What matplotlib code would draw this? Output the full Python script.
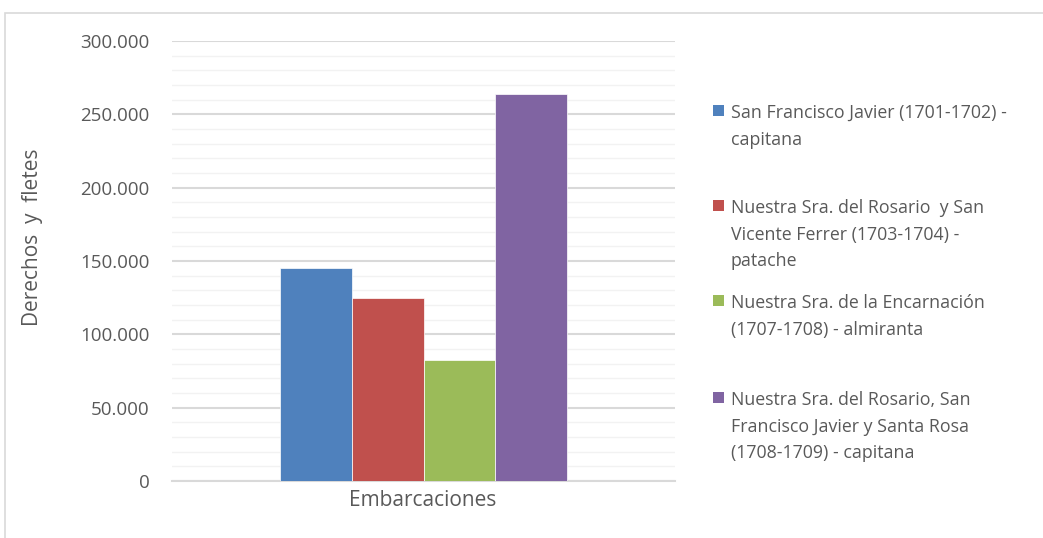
import matplotlib.pyplot as plt
from matplotlib.patches import Rectangle
from matplotlib.ticker import MultipleLocator, FuncFormatter

plt.rcParams['font.family'] = ['Open Sans', 'DejaVu Sans']

category = "Embarcaciones"
ships = [
    "San Francisco Javier (1701-1702) -\ncapitana",
    "Nuestra Sra. del Rosario  y San\nVicente Ferrer (1703-1704) -\npatache",
    "Nuestra Sra. de la Encarnación\n(1707-1708) - almiranta",
    "Nuestra Sra. del Rosario, San\nFrancisco Javier y Santa Rosa\n(1708-1709) - capitana",
]
values = [145500, 125000, 82500, 264000]
colors = ["#4F81BD", "#C0504D", "#9BBB59", "#8064A2"]

grey = "#595959"
fig = plt.figure(figsize=(10.43, 5.38), dpi=100)
ax = fig.add_axes([0.1649, 0.1059, 0.4823, 0.8179])

# four bars side by side around the single category
n = len(values)
bw = 0.143
for i, (v, c) in enumerate(zip(values, colors)):
    ax.bar((i - (n - 1) / 2) * bw, v, width=bw, color=c, edgecolor="white", linewidth=0.5, zorder=3)

ax.set_xlim(-0.5, 0.5)
ax.set_ylim(0, 300000)
ax.yaxis.set_major_locator(MultipleLocator(50000))
ax.yaxis.set_minor_locator(MultipleLocator(10000))
ax.yaxis.set_major_formatter(FuncFormatter(lambda v, p: f"{int(v):,}".replace(",", ".")))
ax.grid(which="major", axis="y", color="#d9d9d9", linewidth=1.5, zorder=0)
ax.grid(which="minor", axis="y", color="#f2f2f2", linewidth=1.0, zorder=0)
ax.tick_params(axis="y", which="both", length=0, pad=16, labelsize=13.5, labelcolor=grey)
ax.set_xticks([])
for s in ["top", "right", "left"]:
    ax.spines[s].set_visible(False)
ax.spines["bottom"].set_color("#d9d9d9")
ax.spines["bottom"].set_linewidth(1.5)

fig.text(423 / 1043, 1 - 501 / 538, category, ha="center", va="center", fontsize=15, color=grey)
fig.text(33 / 1043, 1 - 237 / 538, "Derechos  y  fletes", rotation=90, ha="center", va="center",
         fontsize=15, color=grey)

# legend drawn by hand so the squares line up with the first text line
tops = [104, 199, 294, 391]
for lab, c, t in zip(ships, colors, tops):
    y = 1 - t / 538
    fig.patches.append(Rectangle((713 / 1043, y - 12 / 538), 11 / 1043, 11 / 538,
                                 transform=fig.transFigure, facecolor=c, edgecolor="none"))
    fig.text(731 / 1043, y, lab, ha="left", va="top", fontsize=12.8, color=grey, linespacing=1.62)

# outer chart frame
fig.patches.append(Rectangle((5 / 1043, -0.1), 1.1, 1.1 - 13 / 538, transform=fig.transFigure,
                             facecolor="none", edgecolor="#d9d9d9", linewidth=1.2))

fig.savefig("out.png", dpi=100)
